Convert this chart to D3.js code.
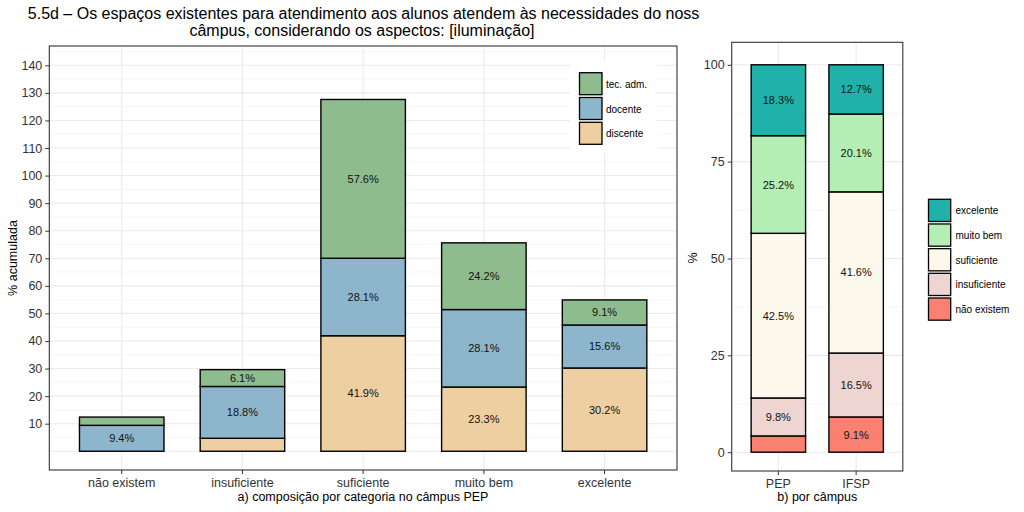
<!DOCTYPE html>
<html><head><meta charset="utf-8">
<script src="https://cdn.jsdelivr.net/npm/d3@7"></script>
<style>
body{margin:0;background:#fff;}
svg{font-family:"Liberation Sans",Arial,Helvetica,sans-serif;}
</style></head>
<body><svg id="c" width="1024" height="512"></svg>
<script>
// ---- data ----
const categories = ["não existem","insuficiente","suficiente","muito bem","excelente"];
const groups = ["discente","docente","tec. adm."];
const discente = [0, 4.7, 41.9, 23.3, 30.2];
const docente = [9.4, 18.8, 28.1, 28.1, 15.6];
const tecAdm = [3.0, 6.1, 57.6, 24.2, 9.1];
const leftTicks = [10,20,30,40,50,60,70,80,90,100,110,120,130,140];

const campuses = ["PEP","IFSP"];
const levels = ["não existem","insuficiente","suficiente","muito bem","excelente"];
const pepValues = [4.2, 9.8, 42.5, 25.2, 18.3];
const ifspValues = [9.1, 16.5, 41.6, 20.1, 12.7];
const rightTicks = [0,25,50,75,100];

const groupColors = {"discente":"#EECFA1","docente":"#8DB6CD","tec. adm.":"#8FBC8F"};
const levelColors = {"não existem":"#FA8072","insuficiente":"#EED5D2","suficiente":"#FDF8EC","muito bem":"#B4EEB4","excelente":"#20B2AA"};

const svg = d3.select("#c");
const grid = "#EBEBEB";
const textCol = "#333";

// ---- title ----
svg.append("defs").append("clipPath").attr("id","tclip").append("rect").attr("x",0).attr("y",0).attr("width",700).attr("height",45);
const tg = svg.append("g").attr("clip-path","url(#tclip)");
tg.append("text").attr("x",368).attr("y",19).attr("text-anchor","middle").attr("font-size",16).attr("fill","#000")
  .text("5.5d – Os espaços existentes para atendimento aos alunos atendem às necessidades do nosso");
tg.append("text").attr("x",362).attr("y",35.5).attr("text-anchor","middle").attr("font-size",16).attr("fill","#000")
  .text("câmpus, considerando os aspectos: [iluminação]");

// ---- left panel ----
const L = {x0:49.3, x1:677, y0:46, y1:470};
const xL = d3.scaleBand().domain(categories).range([L.x0,L.x1]).paddingInner(0.3).paddingOuter(0.25);
const yL = d3.scaleLinear().domain([-6.8,147]).range([L.y1,L.y0]);
const gl = svg.append("g");
gl.append("rect").attr("x",L.x0).attr("y",L.y0).attr("width",L.x1-L.x0).attr("height",L.y1-L.y0).attr("fill","#fff");
const minorL = d3.range(5,150,10);
gl.selectAll(".mn").data(minorL).enter().append("line")
  .attr("x1",L.x0).attr("x2",L.x1).attr("y1",d=>yL(d)).attr("y2",d=>yL(d)).attr("stroke","#F4F4F4").attr("stroke-width",0.8);
gl.selectAll(".mj").data([0].concat(leftTicks)).enter().append("line")
  .attr("x1",L.x0).attr("x2",L.x1).attr("y1",d=>yL(d)).attr("y2",d=>yL(d)).attr("stroke",grid).attr("stroke-width",1.1);
gl.selectAll(".vg").data(categories).enter().append("line")
  .attr("x1",d=>xL(d)+xL.bandwidth()/2).attr("x2",d=>xL(d)+xL.bandwidth()/2).attr("y1",L.y0).attr("y2",L.y1).attr("stroke",grid).attr("stroke-width",1.1);

const seriesL = {"discente":discente,"docente":docente,"tec. adm.":tecAdm};
const stackRows = categories.map((c,i)=>({cat:c, "discente":discente[i], "docente":docente[i], "tec. adm.":tecAdm[i]}));
const stL = d3.stack().keys(groups)(stackRows);
stL.forEach(s=>{
  s.forEach(d=>{
    const c = d.data.cat;
    if (d[1]-d[0] <= 0) return;
    gl.append("rect").attr("x",xL(c)).attr("width",xL.bandwidth())
      .attr("y",yL(d[1])).attr("height",yL(d[0])-yL(d[1]))
      .attr("fill",groupColors[s.key]).attr("stroke","#000").attr("stroke-width",1.4);
  });
});
stL.forEach(s=>{
  s.forEach(d=>{
    const v = d[1]-d[0];
    if (v < 5) return;
    gl.append("text").attr("x",xL(d.data.cat)+xL.bandwidth()/2).attr("y",yL((d[0]+d[1])/2)+4)
      .attr("text-anchor","middle").attr("font-size",11).attr("fill","#111").text(v.toFixed(1)+"%");
  });
});
// legend
const lgL = gl.append("g");
lgL.append("rect").attr("x",570).attr("y",60).attr("width",87).attr("height",93).attr("fill","#fff");
["tec. adm.","docente","discente"].forEach((k,i)=>{
  const y = 72.7 + i*24.8;
  lgL.append("rect").attr("x",579.5).attr("y",y).attr("width",22.5).attr("height",22).attr("fill",groupColors[k]).attr("stroke","#000").attr("stroke-width",1.3);
  lgL.append("text").attr("x",606).attr("y",y+15).attr("font-size",10).attr("fill","#000").text(k);
});
gl.append("rect").attr("x",L.x0).attr("y",L.y0).attr("width",L.x1-L.x0).attr("height",L.y1-L.y0).attr("fill","none").attr("stroke","#333").attr("stroke-width",1.1);
// axes
const axL = gl.append("g").attr("transform",`translate(${L.x0},0)`).call(d3.axisLeft(yL).tickValues(leftTicks).tickSize(4).tickPadding(3));
const axB = gl.append("g").attr("transform",`translate(0,${L.y1})`).call(d3.axisBottom(xL).tickSize(4).tickPadding(4));
[axL,axB].forEach(a=>{a.select(".domain").remove(); a.selectAll("line").attr("stroke","#333"); a.selectAll("text").attr("font-size",12.5).attr("fill",textCol).attr("font-family","Liberation Sans, Arial, sans-serif");});
gl.append("text").attr("x",363).attr("y",501).attr("text-anchor","middle").attr("font-size",12.5).attr("fill","#000").text("a) composição por categoria no câmpus PEP");
gl.append("text").attr("transform","translate(17,258) rotate(-90)").attr("text-anchor","middle").attr("font-size",12.5).attr("fill","#000").text("% acumulada");

// ---- right panel ----
const R = {x0:731.7, x1:902.8, y0:42.3, y1:471};
const xR = d3.scaleBand().domain(campuses).range([R.x0,R.x1]).paddingInner(0.3).paddingOuter(0.25);
const yR = d3.scaleLinear().domain([0,100]).range([452.2,64.8]);
const gr = svg.append("g");
gr.append("rect").attr("x",R.x0).attr("y",R.y0).attr("width",R.x1-R.x0).attr("height",R.y1-R.y0).attr("fill","#fff");
gr.selectAll(".mn").data([12.5,37.5,62.5,87.5]).enter().append("line")
  .attr("x1",R.x0).attr("x2",R.x1).attr("y1",d=>yR(d)).attr("y2",d=>yR(d)).attr("stroke","#F4F4F4").attr("stroke-width",0.8);
gr.selectAll(".mj").data(rightTicks).enter().append("line")
  .attr("x1",R.x0).attr("x2",R.x1).attr("y1",d=>yR(d)).attr("y2",d=>yR(d)).attr("stroke",grid).attr("stroke-width",1.1);
gr.selectAll(".vg").data(campuses).enter().append("line")
  .attr("x1",d=>xR(d)+xR.bandwidth()/2).attr("x2",d=>xR(d)+xR.bandwidth()/2).attr("y1",R.y0).attr("y2",R.y1).attr("stroke",grid).attr("stroke-width",1.1);
const rowsR = campuses.map((c,i)=>{const o={cat:c}; const vals = i===0?pepValues:ifspValues; levels.forEach((l,j)=>o[l]=vals[j]); return o;});
const stR = d3.stack().keys(levels)(rowsR);
stR.forEach(s=>{
  s.forEach(d=>{
    gr.append("rect").attr("x",xR(d.data.cat)).attr("width",xR.bandwidth())
      .attr("y",yR(d[1])).attr("height",yR(d[0])-yR(d[1]))
      .attr("fill",levelColors[s.key]).attr("stroke","#000").attr("stroke-width",1.4);
  });
});
stR.forEach(s=>{
  s.forEach(d=>{
    const v = d[1]-d[0];
    if (v < 5) return;
    gr.append("text").attr("x",xR(d.data.cat)+xR.bandwidth()/2).attr("y",yR((d[0]+d[1])/2)+4)
      .attr("text-anchor","middle").attr("font-size",11).attr("fill","#111").text(v.toFixed(1)+"%");
  });
});
gr.append("rect").attr("x",R.x0).attr("y",R.y0).attr("width",R.x1-R.x0).attr("height",R.y1-R.y0).attr("fill","none").attr("stroke","#333").attr("stroke-width",1.1);
const axRL = gr.append("g").attr("transform",`translate(${R.x0},0)`).call(d3.axisLeft(yR).tickValues(rightTicks).tickSize(4).tickPadding(3));
const axRB = gr.append("g").attr("transform",`translate(0,${R.y1})`).call(d3.axisBottom(xR).tickSize(4).tickPadding(4));
[axRL,axRB].forEach(a=>{a.select(".domain").remove(); a.selectAll("line").attr("stroke","#333"); a.selectAll("text").attr("font-size",12.5).attr("fill",textCol).attr("font-family","Liberation Sans, Arial, sans-serif");});
gr.append("text").attr("x",(R.x0+R.x1)/2).attr("y",501).attr("text-anchor","middle").attr("font-size",12.5).attr("fill","#000").text("b) por câmpus");
gr.append("text").attr("transform","translate(697,258) rotate(-90)").attr("text-anchor","middle").attr("font-size",12.5).attr("fill","#000").text("%");
// right legend
const lgR = gr.append("g");
levels.slice().reverse().forEach((k,i)=>{
  const y = 199.3 + i*24.67;
  lgR.append("rect").attr("x",928.5).attr("y",y).attr("width",22.2).attr("height",22.2).attr("fill",levelColors[k]).attr("stroke","#000").attr("stroke-width",1.3);
  lgR.append("text").attr("x",955.5).attr("y",y+15).attr("font-size",10).attr("fill","#000").text(k);
});
</script></body></html>
